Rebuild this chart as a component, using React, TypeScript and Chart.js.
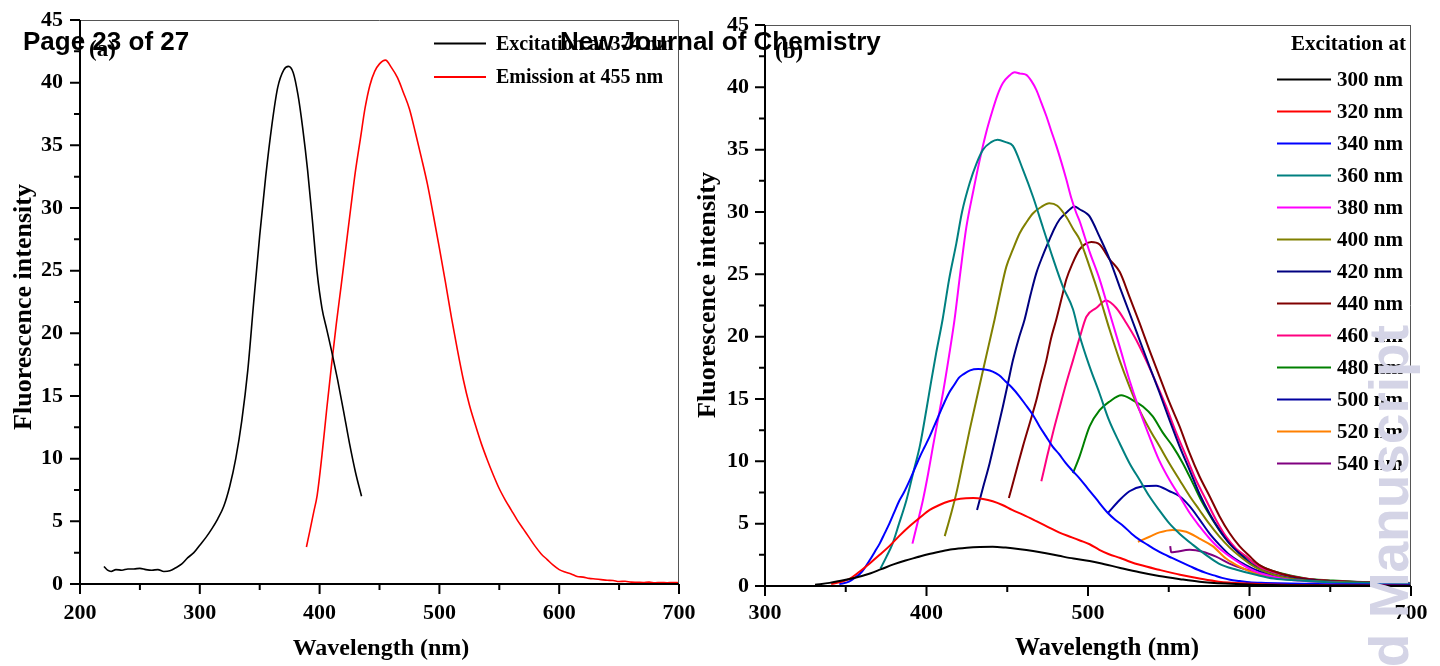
import React, { useEffect, useRef } from "react";
import { Chart, registerables } from "chart.js";

Chart.register(...registerables);

type Pt = [number, number];

// ---------- Panel (a): excitation / emission spectra ----------
const excitation374: Pt[] = [
  [220, 1.4], [223, 1.1], [226, 1.0], [230, 1.15], [235, 1.1], [240, 1.2], [245, 1.2], [250, 1.25],
  [255, 1.15], [260, 1.1], [265, 1.15], [270, 1.0], [275, 1.05], [280, 1.3], [285, 1.6], [290, 2.1],
  [295, 2.5], [300, 3.1], [305, 3.7], [310, 4.4], [315, 5.2], [320, 6.2], [325, 7.8], [330, 10.0],
  [335, 13.0], [340, 17.0], [345, 22.5], [350, 27.8], [355, 32.5], [360, 36.5], [365, 39.6], [370, 41.0],
  [374, 41.3], [378, 40.8], [382, 39.0], [386, 36.3], [390, 33.0], [394, 29.0], [398, 24.8], [402, 22.0],
  [406, 20.3], [410, 18.6], [415, 16.3], [420, 13.8], [425, 11.2], [430, 8.9], [435, 7.0],
];

const emission455: Pt[] = [
  [389, 2.95], [392, 4.3], [395, 5.7], [398, 7.1], [402, 10.3], [406, 14.0], [410, 17.5], [414, 20.8],
  [418, 23.8], [422, 26.9], [426, 30.0], [430, 33.0], [434, 35.5], [438, 38.0], [442, 39.8], [446, 40.9],
  [450, 41.5], [455, 41.8], [460, 41.2], [465, 40.4], [470, 39.2], [475, 37.9], [480, 36.0], [485, 34.0],
  [490, 31.9], [495, 29.4], [500, 26.8], [505, 24.1], [510, 21.3], [515, 18.7], [520, 16.3], [525, 14.3],
  [530, 12.7], [535, 11.2], [540, 9.9], [545, 8.7], [550, 7.6], [555, 6.7], [560, 5.9], [565, 5.1],
  [570, 4.4], [575, 3.7], [580, 3.0], [585, 2.4], [590, 1.95], [595, 1.5], [600, 1.15], [605, 0.95],
  [610, 0.8], [615, 0.6], [620, 0.55], [625, 0.45], [630, 0.4], [635, 0.35], [640, 0.3], [645, 0.28],
  [650, 0.2], [655, 0.22], [660, 0.15], [665, 0.14], [670, 0.12], [675, 0.15], [680, 0.1], [685, 0.12],
  [690, 0.1], [695, 0.12], [700, 0.1],
];

const panelALabels = ["Excitation at 374 nm", "Emission at 455 nm"];
const panelAColors = ["#000000", "#FF0000"];

// ---------- Panel (b): emission spectra at different excitation wavelengths ----------
const ex300: Pt[] = [
  [331, 0.1], [340, 0.25], [350, 0.5], [360, 0.8], [365, 1.0], [372, 1.35], [380, 1.75], [387, 2.05],
  [394, 2.3], [401, 2.55], [408, 2.75], [416, 2.95], [425, 3.07], [433, 3.13], [441, 3.15], [449, 3.08],
  [458, 2.95], [466, 2.8], [474, 2.62], [482, 2.42], [491, 2.2], [501, 2.0], [507, 1.85], [520, 1.45],
  [532, 1.1], [544, 0.8], [557, 0.55], [569, 0.35], [585, 0.2], [600, 0.12], [620, 0.07], [650, 0.04],
  [680, 0.03], [700, 0.02],
];
const ex320: Pt[] = [
  [341, 0.15], [346, 0.3], [352, 0.55], [358, 1.1], [365, 1.83], [371, 2.5], [377, 3.2], [383, 4.0],
  [390, 4.85], [396, 5.5], [402, 6.1], [408, 6.5], [414, 6.8], [421, 7.0], [429, 7.05], [435, 6.98],
  [441, 6.8], [447, 6.5], [453, 6.1], [460, 5.7], [468, 5.2], [475, 4.75], [482, 4.3], [490, 3.9],
  [495, 3.65], [501, 3.35], [507, 2.9], [513, 2.55], [520, 2.25], [526, 1.95], [532, 1.7], [544, 1.3],
  [557, 0.9], [569, 0.6], [581, 0.35], [598, 0.2], [620, 0.1], [650, 0.05], [700, 0.03],
];
const ex340: Pt[] = [
  [346, 0.15], [352, 0.35], [356, 0.7], [359, 1.0], [362, 1.5], [365, 2.1], [368, 2.75], [371, 3.4],
  [374, 4.2], [377, 5.0], [380, 5.9], [383, 6.8], [386, 7.5], [390, 8.6], [393, 9.5], [396, 10.4],
  [399, 11.2], [402, 12.0], [405, 12.9], [408, 13.8], [411, 14.7], [414, 15.5], [417, 16.1], [420, 16.7],
  [423, 17.0], [427, 17.3], [432, 17.4], [437, 17.35], [441, 17.2], [445, 16.9], [449, 16.4], [453, 15.9],
  [457, 15.3], [461, 14.6], [466, 13.7], [470, 12.8], [474, 12.0], [478, 11.2], [482, 10.6], [486, 9.9],
  [490, 9.3], [495, 8.6], [500, 7.8], [505, 7.0], [512, 5.9], [517, 5.3], [522, 4.8], [527, 4.2],
  [532, 3.7], [537, 3.3], [542, 2.9], [547, 2.55], [552, 2.25], [557, 1.95], [563, 1.6], [568, 1.3],
  [573, 1.05], [578, 0.85], [583, 0.65], [588, 0.5], [594, 0.4], [600, 0.3], [610, 0.25], [625, 0.2],
  [650, 0.15], [675, 0.12], [700, 0.1],
];
const ex360: Pt[] = [
  [371.5, 1.4], [375, 2.3], [379, 3.4], [383, 5.0], [387.6, 6.9], [392, 9.2], [396, 11.3], [400, 14.2],
  [403, 16.5], [406, 18.7], [410, 21.4], [414, 24.6], [418.5, 27.5], [422, 30.0], [426.7, 32.3], [431, 33.9],
  [435, 35.0], [440, 35.6], [444, 35.8], [449, 35.6], [453.5, 35.3], [459.7, 33.4], [466, 31.2], [472, 28.8],
  [478, 26.4], [484.5, 24.0], [490.7, 22.2], [495, 20.0], [501, 17.6], [507, 15.5], [513, 13.3], [519.6, 11.45],
  [525.7, 9.85], [532, 8.5], [538, 7.2], [544, 6.1], [550.5, 5.0], [556.7, 4.2], [565, 3.3], [573, 2.5],
  [581, 1.8], [592, 1.3], [604, 0.9], [615, 0.6], [630, 0.45], [650, 0.3], [675, 0.25], [700, 0.2],
];
const ex380: Pt[] = [
  [391.3, 3.4], [394.5, 5.1], [397.8, 6.9], [401, 9.0], [404, 11.2], [407, 13.3], [410.2, 15.5], [414, 18.5],
  [417.4, 21.4], [421, 25.2], [424.7, 28.8], [429, 31.7], [433, 34.2], [437, 36.4], [441, 38.2], [444, 39.4],
  [447.3, 40.35], [451, 40.9], [454.6, 41.2], [458, 41.1], [461.8, 41.0], [465, 40.5], [468, 39.8], [471, 38.8],
  [474.2, 37.7], [477, 36.6], [480.4, 35.3], [483.5, 34.0], [486.6, 32.6], [489.7, 31.1], [492.8, 29.9], [495, 29.2],
  [498, 28.0], [501, 26.8], [507.2, 24.6], [513.4, 21.9], [519.6, 19.2], [525.7, 16.5], [531.9, 14.1], [538, 12.0],
  [544, 10.1], [550.5, 8.5], [556.7, 7.2], [563, 5.85], [569, 4.8], [575, 3.85], [581.4, 3.0], [587.6, 2.4],
  [595.8, 1.7], [604, 1.15], [614.5, 0.75], [625, 0.5], [640, 0.35], [660, 0.25], [680, 0.2], [700, 0.2],
];
const ex400: Pt[] = [
  [411.3, 4.0], [415, 5.7], [418.5, 7.45], [422.5, 9.9], [426.7, 12.5], [431, 15.0], [435, 17.3], [438.5, 19.3],
  [442.2, 21.4], [445.8, 23.6], [449.4, 25.6], [453.5, 27.0], [457.7, 28.3], [462, 29.2], [466, 29.9], [471, 30.4],
  [476, 30.7], [481, 30.5], [486.6, 29.6], [491, 28.6], [494.8, 27.8], [501, 25.6], [507.2, 23.2], [513.4, 20.55],
  [519.6, 18.1], [525.7, 16.0], [531.9, 14.1], [538, 12.6], [544.3, 11.2], [550.5, 9.8], [556.7, 8.5], [563, 7.2],
  [569, 6.1], [575, 5.0], [581.4, 3.96], [587.6, 3.1], [593.8, 2.4], [600, 1.8], [606, 1.35], [615, 0.9],
  [625, 0.6], [640, 0.4], [660, 0.3], [680, 0.25], [700, 0.2],
];
const ex420: Pt[] = [
  [431.3, 6.1], [435, 7.9], [439.1, 9.85], [443, 12.0], [447.3, 14.4], [450.5, 16.3], [453.5, 18.1], [457, 19.8],
  [460.8, 21.4], [464.5, 23.4], [468, 25.1], [472, 26.5], [476.2, 27.8], [479.3, 28.7], [482.4, 29.4], [487, 30.0],
  [491.7, 30.45], [495, 30.2], [499, 29.9], [501, 29.65], [507.2, 28.0], [513.4, 26.2], [519.6, 24.0], [525.7, 21.9],
  [531.9, 19.75], [538.1, 17.6], [544.3, 15.5], [550.5, 13.3], [556.7, 11.2], [562.9, 9.3], [569, 7.4], [575.3, 5.8],
  [581.4, 4.5], [587.6, 3.4], [593.8, 2.6], [600, 1.9], [606.2, 1.35], [614.5, 0.95], [625, 0.65], [640, 0.45],
  [660, 0.3], [680, 0.25], [700, 0.2],
];
const ex440: Pt[] = [
  [451, 7.05], [455.5, 9.2], [459.7, 11.2], [464, 13.1], [468, 14.9], [471, 16.5], [474.2, 18.1], [477, 19.8],
  [480.4, 21.4], [483.5, 23.0], [486.6, 24.6], [490.5, 25.9], [494.8, 27.0], [498, 27.4], [502, 27.6], [507.2, 27.4],
  [513.4, 26.2], [519.6, 25.2], [525.7, 23.2], [531.9, 21.1], [538.1, 18.9], [544.3, 16.8], [550.5, 14.7], [556.7, 12.8],
  [562.9, 10.65], [569, 8.8], [575.3, 7.2], [581.4, 5.6], [587.6, 4.25], [593.8, 3.2], [600, 2.4], [606, 1.7],
  [614.5, 1.2], [625, 0.8], [640, 0.5], [660, 0.35], [680, 0.25], [700, 0.2],
];
const ex460: Pt[] = [
  [471.1, 8.4], [474.7, 10.4], [478.3, 12.3], [482.4, 14.3], [486.6, 16.3], [490.7, 18.1], [494.8, 19.9], [499, 21.6],
  [505.1, 22.3], [511.3, 22.9], [517.5, 22.3], [523.7, 21.1], [529.8, 19.75], [536, 18.1], [542.2, 16.3], [548.4, 14.4],
  [554.6, 12.3], [560.8, 10.4], [566.9, 8.5], [573.1, 6.9], [579.3, 5.3], [585.5, 3.96], [591.7, 3.0], [597.8, 2.4],
  [604, 1.7], [612.3, 1.2], [625, 0.8], [640, 0.5], [660, 0.35], [680, 0.25], [700, 0.2],
];
const ex480: Pt[] = [
  [490.7, 9.05], [494.8, 10.4], [501, 12.8], [507.2, 14.1], [513.4, 14.8], [520.6, 15.3], [527.8, 14.9], [534, 14.4],
  [540.1, 13.6], [546.3, 12.3], [552.5, 11.2], [558.7, 9.85], [564.9, 8.25], [571, 6.65], [577.2, 5.3], [583.4, 4.1],
  [589.6, 3.2], [595.8, 2.5], [602, 1.95], [610.2, 1.4], [620, 1.0], [635, 0.6], [650, 0.45], [670, 0.3],
  [700, 0.25],
];
const ex500: Pt[] = [
  [512.3, 5.85], [519.6, 6.9], [525.7, 7.6], [534, 8.0], [542.2, 8.05], [550.5, 7.6], [556.7, 7.2], [562.9, 6.4],
  [569, 5.35], [575.3, 4.2], [581.4, 3.3], [587.6, 2.5], [593.8, 1.95], [602, 1.4], [612.3, 0.9], [625, 0.6],
  [640, 0.45], [660, 0.3], [680, 0.25], [700, 0.2],
];
const ex520: Pt[] = [
  [530.9, 3.55], [538.1, 3.95], [544.3, 4.3], [552.5, 4.5], [560.8, 4.35], [569, 3.8], [577.2, 3.2], [585.5, 2.2],
  [593.8, 1.55], [604, 1.0], [614, 0.75], [630, 0.5], [650, 0.35], [675, 0.3], [700, 0.25],
];
const ex540: Pt[] = [
  [550.9, 3.2], [551.5, 2.7], [554.6, 2.75], [562.9, 2.9], [571, 2.75], [579.3, 2.35], [587.6, 1.8], [595.8, 1.4],
  [606.2, 1.0], [616, 0.75], [630, 0.5], [650, 0.4], [675, 0.3], [700, 0.25],
];

const panelBSeries: Pt[][] = [ex300, ex320, ex340, ex360, ex380, ex400, ex420, ex440, ex460, ex480, ex500, ex520, ex540];
const panelBLabels = [
  "300 nm", "320 nm", "340 nm", "360 nm", "380 nm", "400 nm", "420 nm",
  "440 nm", "460 nm", "480 nm", "500 nm", "520 nm", "540 nm",
];
const panelBColors = [
  "#000000", "#FF0000", "#0000FF", "#008080", "#FF00FF", "#808000", "#000080",
  "#800000", "#FF0080", "#008000", "#0000A0", "#FF8000", "#800080",
];

const SERIF = "'Liberation Serif', 'Times New Roman', serif";
const SANS = "'Liberation Sans', Arial, sans-serif";

// Frame, tick marks, axis titles, panel tag, legend and watermark
const decorPlugin = {
  id: "decor",
  afterDraw(chart: any, _args: any, o: any) {
    const { ctx, chartArea: ca } = chart;
    const xs = chart.scales.x;
    const ys = chart.scales.y;
    ctx.save();

    // box
    ctx.strokeStyle = "#555";
    ctx.lineWidth = 1;
    ctx.beginPath();
    ctx.moveTo(ca.left, ca.top + 0.5);
    ctx.lineTo(ca.right, ca.top + 0.5);
    ctx.moveTo(ca.right - 0.5, ca.top);
    ctx.lineTo(ca.right - 0.5, ca.bottom);
    ctx.stroke();
    ctx.strokeStyle = "#000";
    ctx.lineWidth = 2;
    ctx.beginPath();
    ctx.moveTo(ca.left, ca.top);
    ctx.lineTo(ca.left, ca.bottom);
    ctx.lineTo(ca.right, ca.bottom);
    ctx.stroke();

    // tick marks
    ctx.lineWidth = 2;
    ctx.beginPath();
    for (let v = ys.min; v <= ys.max + 1e-9; v += o.yMinor) {
      const y = ys.getPixelForValue(v);
      const major = Math.abs(v / o.yMajor - Math.round(v / o.yMajor)) < 1e-6;
      ctx.moveTo(ca.left - (major ? 10 : 6), y);
      ctx.lineTo(ca.left, y);
    }
    for (let v = xs.min; v <= xs.max + 1e-9; v += o.xMinor) {
      const x = xs.getPixelForValue(v);
      const major = Math.abs(v / o.xMajor - Math.round(v / o.xMajor)) < 1e-6;
      ctx.moveTo(x, ca.bottom);
      ctx.lineTo(x, ca.bottom + (major ? 10 : 6));
    }
    ctx.stroke();

    ctx.fillStyle = "#000";
    // axis titles
    ctx.font = `bold ${o.xTitleSize}px ${SERIF}`;
    ctx.textAlign = "center";
    ctx.textBaseline = "alphabetic";
    ctx.fillText(o.xTitle, o.xTitleX, o.xTitleY);

    ctx.save();
    ctx.translate(o.yTitleX, o.yTitleY);
    ctx.rotate(-Math.PI / 2);
    ctx.font = `bold ${o.yTitleSize}px ${SERIF}`;
    ctx.fillText(o.yTitle, 0, 0);
    ctx.restore();

    // panel tag
    ctx.font = `bold 23px ${SERIF}`;
    ctx.textAlign = "left";
    ctx.fillText(o.tag, o.tagX, o.tagY);

    // legend
    ctx.font = `bold ${o.legendSize}px ${SERIF}`;
    ctx.textBaseline = "middle";
    if (o.legendHeader) {
      ctx.textAlign = "right";
      ctx.fillText(o.legendHeader, o.legendHeaderX, o.legendHeaderY);
    }
    ctx.textAlign = "left";
    chart.data.datasets.forEach((ds: any, i: number) => {
      const y = o.legendY + i * o.legendGap;
      ctx.strokeStyle = ds.borderColor;
      ctx.lineWidth = 2;
      ctx.beginPath();
      ctx.moveTo(o.legendLineX0, y);
      ctx.lineTo(o.legendLineX1, y);
      ctx.stroke();
      ctx.fillStyle = "#000";
      ctx.fillText(ds.label, o.legendTextX, y + 1);
    });

    // watermark
    if (o.mark) {
      ctx.save();
      ctx.translate(o.markX, o.markY);
      ctx.rotate(-Math.PI / 2);
      ctx.font = `bold 55px ${SANS}`;
      ctx.fillStyle = "#D4D4E6";
      ctx.textAlign = "right";
      ctx.textBaseline = "alphabetic";
      ctx.fillText(o.mark, 0, 0);
      ctx.restore();
    }
    ctx.restore();
  },
};

function buildConfig(p: {
  series: Pt[][];
  labels: string[];
  colors: string[];
  lineWidth: number;
  xMin: number;
  xMax: number;
  padTop: number;
  padRight: number;
  yWidth: number;
  xHeight: number;
  yTickPad: number;
  xTickPad: number;
  decor: any;
}) {
  return {
    type: "line" as const,
    data: {
      datasets: p.series.map((s, i) => ({
        label: p.labels[i],
        data: s.map(([x, y]) => ({ x, y })),
        borderColor: p.colors[i],
        borderWidth: p.lineWidth,
        pointRadius: 0,
        fill: false,
        cubicInterpolationMode: "monotone" as const,
      })),
    },
    options: {
      animation: false as const,
      responsive: false,
      maintainAspectRatio: false,
      layout: { padding: { left: 0, right: p.padRight, top: p.padTop, bottom: 0 } },
      plugins: {
        legend: { display: false },
        tooltip: { enabled: false },
        decor: p.decor,
      },
      scales: {
        x: {
          type: "linear" as const,
          min: p.xMin,
          max: p.xMax,
          grid: { display: false, drawTicks: false },
          border: { display: false },
          ticks: {
            stepSize: 100,
            color: "#000",
            padding: p.xTickPad,
            maxRotation: 0,
            autoSkip: false,
            font: { family: SERIF, size: 22, weight: "bold" as const },
          },
          afterFit(s: any) {
            s.height = p.xHeight;
            s.paddingLeft = 0;
            s.paddingRight = 0;
          },
        },
        y: {
          min: 0,
          max: 45,
          grid: { display: false, drawTicks: false },
          border: { display: false },
          ticks: {
            stepSize: 5,
            color: "#000",
            padding: p.yTickPad,
            font: { family: SERIF, size: 22, weight: "bold" as const },
          },
          afterFit(s: any) {
            s.width = p.yWidth;
            s.paddingTop = 0;
            s.paddingBottom = 0;
          },
        },
      },
    },
    plugins: [decorPlugin],
  };
}

export default function App() {
  const refA = useRef<HTMLCanvasElement>(null);
  const refB = useRef<HTMLCanvasElement>(null);

  useEffect(() => {
    const chartA = new Chart(
      refA.current as HTMLCanvasElement,
      buildConfig({
        series: [excitation374, emission455],
        labels: panelALabels,
        colors: panelAColors,
        lineWidth: 1.6,
        xMin: 200,
        xMax: 700,
        padTop: 20,
        padRight: 41,
        yWidth: 80,
        xHeight: 82,
        yTickPad: 17,
        xTickPad: 16,
        decor: {
          yMinor: 2.5, yMajor: 5, xMinor: 50, xMajor: 100,
          xTitle: "Wavelength (nm)", xTitleSize: 24, xTitleX: 381, xTitleY: 655,
          yTitle: "Fluorescence intensity", yTitleSize: 26, yTitleX: 31, yTitleY: 307,
          tag: "(a)", tagX: 89, tagY: 56,
          legendSize: 20, legendY: 43.5, legendGap: 33.4,
          legendLineX0: 434, legendLineX1: 486, legendTextX: 496,
        },
      }) as any
    );
    const chartB = new Chart(
      refB.current as HTMLCanvasElement,
      buildConfig({
        series: panelBSeries,
        labels: panelBLabels,
        colors: panelBColors,
        lineWidth: 2,
        xMin: 300,
        xMax: 700,
        padTop: 25,
        padRight: 29,
        yWidth: 75,
        xHeight: 80,
        yTickPad: 16,
        xTickPad: 14,
        decor: {
          yMinor: 2.5, yMajor: 5, xMinor: 50, xMajor: 100,
          xTitle: "Wavelength (nm)", xTitleSize: 25, xTitleX: 417, xTitleY: 655,
          yTitle: "Fluorescence intensity", yTitleSize: 26, yTitleX: 25, yTitleY: 295,
          tag: "(b)", tagX: 85, tagY: 58,
          legendSize: 21, legendY: 79.5, legendGap: 32,
          legendHeader: "Excitation at", legendHeaderX: 716, legendHeaderY: 45,
          legendLineX0: 587, legendLineX1: 641, legendTextX: 647,
          mark: "Accepted Manuscript", markX: 718, markY: 325,
        },
      }) as any
    );
    return () => {
      chartA.destroy();
      chartB.destroy();
    };
  }, []);

  const headerStyle: React.CSSProperties = {
    position: "absolute",
    top: 28,
    fontFamily: SANS,
    fontWeight: "bold",
    fontSize: 26,
    lineHeight: "26px",
    whiteSpace: "nowrap",
    color: "#000",
  };

  return (
    <div
      style={{
        position: "fixed",
        left: 0,
        top: 0,
        width: 1440,
        height: 666,
        background: "#fff",
        overflow: "hidden",
      }}
    >
      <canvas ref={refA} width={720} height={666} style={{ position: "absolute", left: 0, top: 0, width: 720, height: 666 }} />
      <canvas ref={refB} width={750} height={666} style={{ position: "absolute", left: 690, top: 0, width: 750, height: 666 }} />
      <div style={{ ...headerStyle, left: 23 }}>Page 23 of 27</div>
      <div style={{ ...headerStyle, left: 560 }}>New Journal of Chemistry</div>
    </div>
  );
}
